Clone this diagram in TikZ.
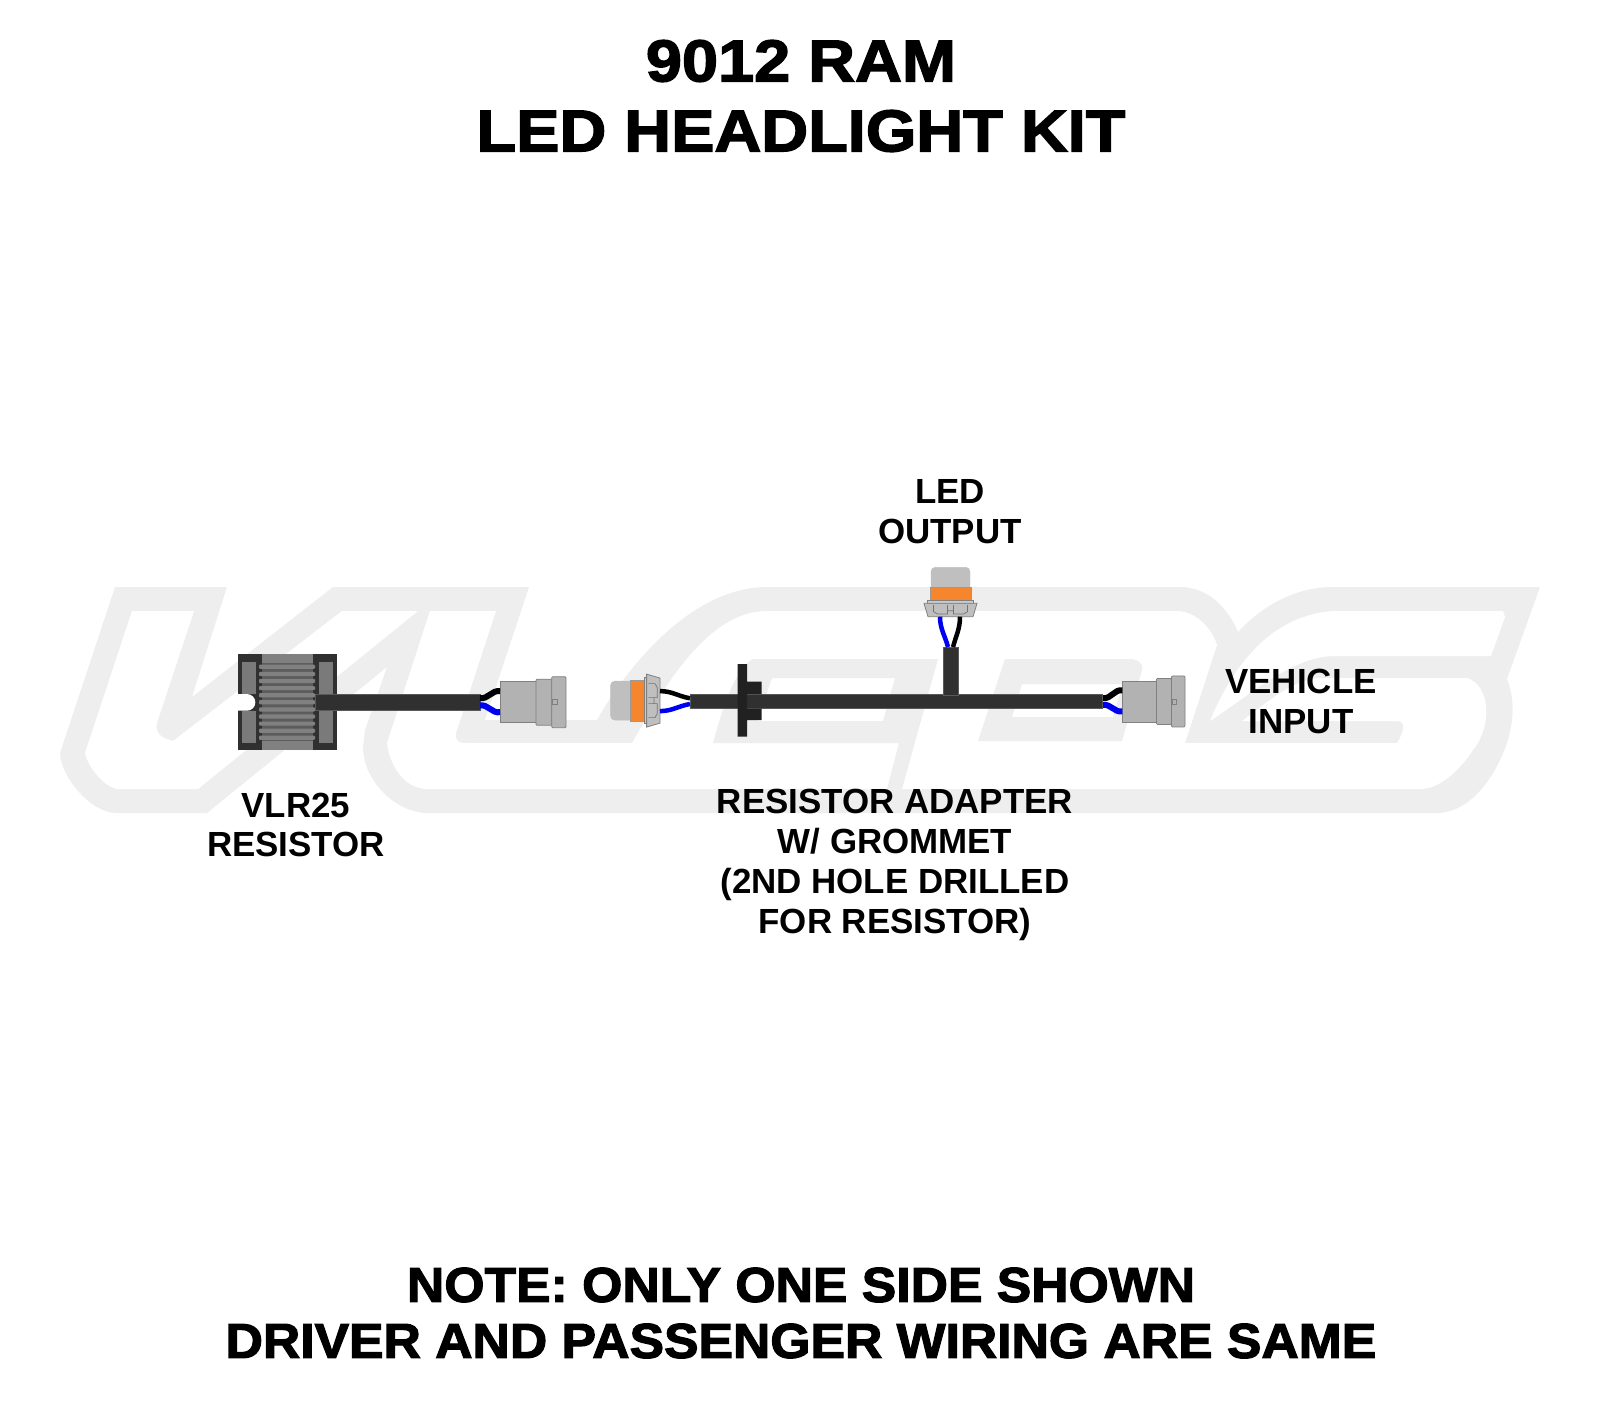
\documentclass[tikz,border=0pt]{standalone}
\usepackage{fontspec}
\setmainfont{Liberation Sans}[UprightFont=* Bold]
\newfontfamily\headfont{Liberation Sans}[UprightFont=* Bold,FakeBold=2.4,FakeStretch=1.1]
\newfontfamily\footfont{Liberation Sans}[UprightFont=* Bold,FakeBold=2.4,FakeStretch=1.055]
\usetikzlibrary{positioning}

\definecolor{logogrey}{HTML}{EEEEEE}
\definecolor{cablegrey}{HTML}{303030}
\definecolor{plugorange}{HTML}{F6862E}
\definecolor{wireblue}{HTML}{0000F0}

\tikzset{
    head/.style={font=\headfont\fontsize{59}{70}\selectfont, align=center},
    foot/.style={font=\footfont\fontsize{49}{56}\selectfont, align=center},
    tag/.style={font=\fontsize{34.9}{39.8}\selectfont, align=center},
    cable/.style={fill=cablegrey, draw=cablegrey!80!white, line width=.4pt, inner sep=0pt, outer sep=0pt},
    plugpart/.style={fill=black!30, draw=black!50, line width=.8pt, inner sep=0pt, outer sep=0pt},
    wirek/.style={draw=black, line width=6pt},
    wireb/.style={draw=wireblue, line width=6pt},
    plug/.pic={
        \coordinate (-k) at (0, -11);
        \coordinate (-b) at (0, 10);
        \filldraw[plugpart] (0, -20.5) rectangle (36, 20.5);
        \filldraw[plugpart, rounded corners=1pt] (36, -23) rectangle (51.7, 23);
        \filldraw[plugpart, rounded corners=1pt] (51.7, -25.5) rectangle (66, 25.5);
        \filldraw[plugpart] (52.3, -2.5) rectangle (57.3, 2.5);
    },
    socket/.pic={
        \coordinate (-k) at (9.5, 0);
        \coordinate (-b) at (-10.5, 0);
        \filldraw[fill=black!25, draw=black!25] (-19.5, -29.4) -- (-19.5, -45) to[out=90, in=180] (-15.5, -49.4) -- (15.5, -49.4) to[out=0, in=90] (19.5, -45) -- (19.5, -29.4) -- cycle;
        \filldraw[fill=plugorange, draw=black!40, line width=.5pt] (-20.5, -29.4) rectangle (20.5, -16);
        \filldraw[fill=black!20, draw=black!50, line width=.8pt] (-23, -16) rectangle (23, -13.4);
        \filldraw[fill=black!25, draw=black!50, line width=.8pt] (-26.5, -13.4) -- (26.5, -13.4) -- (22.5, 0) -- (-22.5, 0) -- cycle;
        \draw[black!55, line width=.7pt] (-17, -11.7) -- (-17, -5) -- (-13, -2.7) -- (-3, -2.7) -- (-3, -11.7) (3, -11.7) -- (3, -2.7) -- (13, -2.7) -- (17, -5) -- (17, -11.7) (-3, -6) -- (3, -6);
    }
}

\begin{document}
\begin{tikzpicture}[x=1pt, y=-1pt]
    \useasboundingbox (0, 0) rectangle (1600, 1400);

    % logo behind the wiring
    \fill[logogrey] (115, 587) -- (227, 587) -- (192, 697) -- (333, 587) -- (529, 587) -- (485, 720) -- (597, 720)
        .. controls (625, 670) and (690, 587) .. (767, 587) -- (1180, 587)
        .. controls (1208, 587) and (1228, 608) .. (1238, 632)
        .. controls (1262, 606) and (1295, 587) .. (1333, 587) -- (1540, 587) -- (1507, 679)
        .. controls (1516, 700) and (1516, 735) .. (1493, 773)
        .. controls (1480, 795) and (1460, 813) .. (1437, 813) -- (428, 813)
        .. controls (395, 813) and (363, 780) .. (363, 747) -- (365, 730) -- (387, 667) -- (207, 813) -- (116, 813)
        .. controls (90, 813) and (60, 775) .. (60, 753) -- cycle;
    \fill[white] (132, 611) -- (194, 611) -- (157, 723) .. controls (155, 732) and (160, 738) .. (173, 741)
        -- (342, 611) -- (418, 611) -- (198, 789) -- (117, 789) .. controls (105, 787) and (88, 768) .. (85, 753) -- cycle;
    \fill[white] (430, 611) -- (496, 611) -- (456, 733) .. controls (455, 740) and (458, 743) .. (465, 743) -- (632, 743)
        .. controls (660, 695) and (705, 611) .. (767, 611) -- (1177, 611)
        .. controls (1195, 611) and (1212, 628) .. (1217, 645) -- (1185, 743) -- (1397, 743)
        .. controls (1402, 735) and (1408, 721) .. (1397, 721) -- (1242, 721)
        .. controls (1270, 700) and (1295, 678) .. (1323, 678) -- (1467, 678)
        .. controls (1490, 685) and (1493, 725) .. (1473, 750)
        .. controls (1460, 770) and (1440, 789) .. (1420, 789) -- (428, 789)
        .. controls (405, 789) and (390, 767) .. (387, 743) -- cycle;
    \fill[white] (1333, 611) -- (1503, 611) -- (1505, 617) -- (1491, 656) -- (1332, 656)
        .. controls (1290, 658) and (1250, 695) .. (1210, 721)
        .. controls (1235, 660) and (1275, 615) .. (1333, 611) -- cycle;
    \fill[logogrey, even odd rule] (753, 659) -- (938, 659) -- (902, 789) -- (887, 789) -- (899, 743) -- (713, 743)
        .. controls (722, 710) and (735, 668) .. (753, 659) -- cycle
        (772, 678) -- (895, 678) -- (883, 721) -- (757, 721) -- cycle;
    \fill[logogrey, even odd rule] (1005, 659) -- (1130, 659) .. controls (1138, 659) and (1144, 664) .. (1142, 670) -- (1122, 741) -- (978, 741) -- cycle
        (1022, 684) -- (1123, 684) -- (1113, 717) -- (1012, 717) -- cycle;

    % resistor
    \node[fill=cablegrey, inner sep=0pt, minimum width=99pt, minimum height=95.5pt] at (287.2, 702)(resistor){};
    \fill[black!50] (261.7, 654) rectangle (312.7, 749.5);
    \fill[black!64] (261.7, 663) rectangle (312.7, 741);
    \foreach \row in {0, ..., 10}
        \fill[black!50, rounded corners=1pt] (259, 664.7+7.1*\row) rectangle (315, 668.9+7.1*\row);
    \foreach \px in {242.3, 319.3} {
        \fill[black!52] (\px, 661.7) rectangle (\px+13.4, 694);
        \fill[black!52] (\px, 710.7) rectangle (\px+13.4, 742.7);
    }
    \fill[white] (237, 694) -- (247, 694) arc (-90:90:8.35) -- (237, 710.7) -- cycle;

    % cables
    \node[cable, minimum width=165pt, minimum height=16pt] at (397.5, 702)(resCable){};
    \node[cable, minimum width=412.7pt, minimum height=14.5pt] at (896.3, 701.2)(mainCable){};
    \node[cable, minimum width=14.4pt, minimum height=48pt] at (950.5, 670.7)(ledCable){};
    \fill[black!87] (737.7, 664) rectangle (747, 736.7) (747, 681.7) rectangle (761.7, 694) (747, 708.5) rectangle (761.7, 720);
    \coordinate (resK) at (480, 698);
    \coordinate (resB) at (480, 705.5);
    \coordinate (adaptK) at (690, 698.3);
    \coordinate (adaptB) at (690, 704);
    \coordinate (ledB) at (948, 647);
    \coordinate (ledK) at (953, 647);
    \coordinate (vehK) at (1103, 698);
    \coordinate (vehB) at (1103, 705);

    % connectors
    \pic (resPlug) at (500, 702.2){plug};
    \pic[xscale=.95] (vehPlug) at (1122.3, 701.4){plug};
    \pic (ledSocket) at (950.5, 616.7){socket};
    \pic[rotate=90] (adaptSocket) at (660, 700.6){socket};

    \path
        (resK) edge[wirek, out=-10, in=170] (resPlug-k)
        (resB) edge[wireb, out=10, in=190] (resPlug-b)
        (vehK) edge[wirek, out=-10, in=170] (vehPlug-k)
        (vehB) edge[wireb, out=10, in=190] (vehPlug-b)
        ;
    \path[line width=4.5pt]
        (adaptK) edge[draw=black, out=170, in=0] (adaptSocket-k)
        (adaptB) edge[draw=wireblue, out=190, in=0] (adaptSocket-b)
        (ledB) edge[draw=wireblue, out=105, in=-90] (ledSocket-b)
        (ledK) edge[draw=black, out=75, in=-90] (ledSocket-k)
        ;

    % texts
    \node[head] at (801, 96)(title){9012 RAM\\LED HEADLIGHT KIT};
    \node[foot] at (801, 1313)(note){NOTE: ONLY ONE SIDE SHOWN\\DRIVER AND PASSENGER WIRING ARE SAME};
    \node[tag] at (950, 512)(ledTag){LED\\OUTPUT};
    \node[tag] at (1301, 701.5)(vehTag){VEHICLE\\INPUT};
    \node[tag] at (296, 825)(resTag){VLR25\\RESISTOR};
    \node[tag] at (895, 865)(adaptTag){RESISTOR ADAPTER\\W/ GROMMET\\(2ND HOLE DRILLED\\FOR RESISTOR)};
\end{tikzpicture}
\end{document}
